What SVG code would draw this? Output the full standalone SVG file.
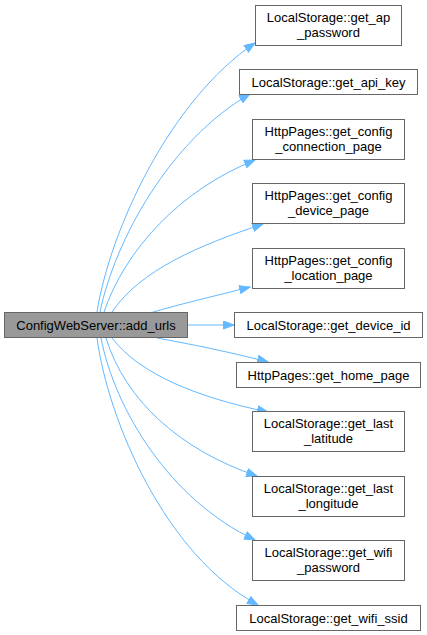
<svg xmlns="http://www.w3.org/2000/svg" width="427" height="635" viewBox="0 0 427 635">
<style>
.n rect{fill:#ffffff;stroke:#666666;stroke-width:1}
.n.src rect{fill:#999999;stroke:#666666}
.n text{font-family:"Liberation Sans",Arial,Helvetica,sans-serif;font-size:13px;fill:#000000;text-anchor:middle}
.e path{fill:none;stroke:#63b8ff;stroke-width:1;marker-end:url(#ah)}
</style>
<defs>
<marker id="ah" markerUnits="userSpaceOnUse" markerWidth="14" markerHeight="11" refX="11" refY="4.5" orient="auto">
<path d="M0.5,0.5 L11,4.5 L0.5,8.5 z" fill="#63b8ff" stroke="#63b8ff" stroke-width="1"/>
</marker>
</defs>
<g id="edges" class="e">
<path d="M97,312 C110,230 170,100 255,43"/>
<path d="M100,312 C115,240 170,140 250,94"/>
<path d="M104,312 C125,250 180,190 255,160"/>
<path d="M112,312 C140,270 200,245 263,224"/>
<path d="M150,313 C180,304 215,296 250,287"/>
<path d="M187,325 L234,325"/>
<path d="M157,338 C190,344 230,352 268,362"/>
<path d="M112,338 C140,375 200,398 268,412"/>
<path d="M106,338 C125,400 180,450 257,476"/>
<path d="M101,338 C115,410 170,500 255,540"/>
<path d="M97,338 C108,420 165,555 258,605"/>
</g>
<g id="node_add_urls" class="n src"><rect x="4.5" y="312.5" width="183" height="25"/><text x="96" y="330">ConfigWebServer::add_urls</text></g>
<g id="node_get_ap_password" class="n"><rect x="255.5" y="5.5" width="146" height="40"/><text x="328.5" y="22">LocalStorage::get_ap</text><text x="328.5" y="37">_password</text></g>
<g id="node_get_api_key" class="n"><rect x="239.5" y="69.5" width="178" height="25"/><text x="328.5" y="87">LocalStorage::get_api_key</text></g>
<g id="node_get_config_connection_page" class="n"><rect x="252.5" y="119.5" width="152" height="40"/><text x="328.5" y="136">HttpPages::get_config</text><text x="328.5" y="151">_connection_page</text></g>
<g id="node_get_config_device_page" class="n"><rect x="252.5" y="183.5" width="152" height="40"/><text x="328.5" y="200">HttpPages::get_config</text><text x="328.5" y="215">_device_page</text></g>
<g id="node_get_config_location_page" class="n"><rect x="252.5" y="248.5" width="152" height="40"/><text x="328.5" y="265">HttpPages::get_config</text><text x="328.5" y="280">_location_page</text></g>
<g id="node_get_device_id" class="n"><rect x="234.5" y="312.5" width="188" height="25"/><text x="328.5" y="330">LocalStorage::get_device_id</text></g>
<g id="node_get_home_page" class="n"><rect x="236.5" y="362.5" width="184" height="25"/><text x="328.5" y="380">HttpPages::get_home_page</text></g>
<g id="node_get_last_latitude" class="n"><rect x="252.5" y="411.5" width="152" height="40"/><text x="328.5" y="428">LocalStorage::get_last</text><text x="328.5" y="443">_latitude</text></g>
<g id="node_get_last_longitude" class="n"><rect x="252.5" y="476.5" width="152" height="40"/><text x="328.5" y="493">LocalStorage::get_last</text><text x="328.5" y="508">_longitude</text></g>
<g id="node_get_wifi_password" class="n"><rect x="252.5" y="540.5" width="152" height="40"/><text x="328.5" y="557">LocalStorage::get_wifi</text><text x="328.5" y="572">_password</text></g>
<g id="node_get_wifi_ssid" class="n"><rect x="236.5" y="605.5" width="184" height="25"/><text x="328.5" y="623">LocalStorage::get_wifi_ssid</text></g>
</svg>
